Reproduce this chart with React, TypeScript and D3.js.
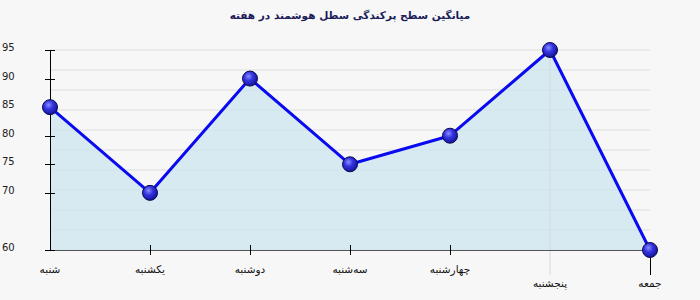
import { useEffect, useRef } from "react";
import * as d3 from "d3";

const title = "میانگین سطح پرکندگی سطل هوشمند در هفته";
const days = ["شنبه", "یکشنبه", "دوشنبه", "سه‌شنبه", "چهارشنبه", "پنجشنبه", "جمعه"];
const values = [85, 70, 90, 75, 80, 95, 60];
const yTickValues = [60, 70, 75, 80, 85, 90, 95];
// labels that are pushed down a row in the original
const lowLabels = ["پنجشنبه", "جمعه"];

function App() {
  const svgRef = useRef<SVGSVGElement | null>(null);

  useEffect(() => {
    const svg: any = d3.select(svgRef.current);
    svg.selectAll("*").remove();
    const width = 700;
    const height = 300;

    const x: any = d3.scalePoint().domain(days).range([50, 650]);
    const y: any = d3.scaleLinear().domain([60, 95]).range([250, 50]);

    const defs = svg.append("defs");
    const grad = defs
      .append("radialGradient")
      .attr("id", "ball")
      .attr("cx", "40%")
      .attr("cy", "35%")
      .attr("r", "65%");
    grad.append("stop").attr("offset", "0%").attr("stop-color", "#8c8cff");
    grad.append("stop").attr("offset", "45%").attr("stop-color", "#3434e0");
    grad.append("stop").attr("offset", "100%").attr("stop-color", "#14149a");

    svg
      .append("rect")
      .attr("width", width)
      .attr("height", height)
      .attr("fill", "#f7f7f7");

    // horizontal grid, 10 equal steps
    const gridVals = d3.range(11).map((i) => 60 + (i * 35) / 10);
    svg
      .append("g")
      .selectAll("line")
      .data(gridVals)
      .enter()
      .append("line")
      .attr("x1", x(days[0]))
      .attr("x2", x(days[days.length - 1]))
      .attr("y1", (d: number) => y(d))
      .attr("y2", (d: number) => y(d))
      .attr("stroke", "#dcdcdc")
      .attr("stroke-width", 1);

    // area under line
    const area: any = d3
      .area()
      .x((_: any, i: number) => x(days[i]))
      .y0(y(60))
      .y1((d: any) => y(d));
    svg
      .append("path")
      .datum(values)
      .attr("d", area)
      .attr("fill", "#cfe6ef")
      .attr("fill-opacity", 0.8);

    // vertical grid line at پنجشنبه
    svg
      .append("line")
      .attr("x1", x(days[5]))
      .attr("x2", x(days[5]))
      .attr("y1", y(95))
      .attr("y2", 275)
      .attr("stroke", "#d4d8dc")
      .attr("stroke-width", 1);

    // axes
    svg
      .append("line")
      .attr("x1", 50)
      .attr("x2", x(days[days.length - 1]))
      .attr("y1", y(60) + 0.5)
      .attr("y2", y(60) + 0.5)
      .attr("stroke", "#555");
    svg
      .append("line")
      .attr("x1", x(days[0]) + 0.5)
      .attr("x2", x(days[0]) + 0.5)
      .attr("y1", y(95))
      .attr("y2", y(60))
      .attr("stroke", "#000");

    // y ticks and labels
    const yt = svg.append("g");
    yt.selectAll("line")
      .data(yTickValues)
      .enter()
      .append("line")
      .attr("x1", 45)
      .attr("x2", 55)
      .attr("y1", (d: number) => Math.round(y(d)) + 0.5)
      .attr("y2", (d: number) => Math.round(y(d)) + 0.5)
      .attr("stroke", "#000");
    yt.selectAll("text")
      .data(yTickValues)
      .enter()
      .append("text")
      .attr("x", 2)
      .attr("y", (d: number) => y(d) + 1)
      .attr("font-family", "DejaVu Sans, Verdana, sans-serif")
      .attr("font-size", 10)
      .attr("fill", "#222")
      .text((d: number) => d);

    // x ticks
    const xt = svg.append("g");
    xt.selectAll("line")
      .data(days.slice(1, 5))
      .enter()
      .append("line")
      .attr("x1", (d: string) => x(d) + 0.5)
      .attr("x2", (d: string) => x(d) + 0.5)
      .attr("y1", 245)
      .attr("y2", 255)
      .attr("stroke", "#000");
    xt.append("line")
      .attr("x1", x(days[6]) + 0.5)
      .attr("x2", x(days[6]) + 0.5)
      .attr("y1", 250)
      .attr("y2", 275)
      .attr("stroke", "#000");
    xt.selectAll("text")
      .data(days)
      .enter()
      .append("text")
      .attr("x", (d: string) => x(d))
      .attr("y", (d: string) => (lowLabels.includes(d) ? 287 : 273))
      .attr("text-anchor", "middle")
      .attr("font-family", "DejaVu Sans, Verdana, sans-serif")
      .attr("font-size", 10.5)
      .attr("fill", "#111")
      .text((d: string) => d);

    // line
    const line: any = d3
      .line()
      .x((_: any, i: number) => x(days[i]))
      .y((d: any) => y(d));
    svg
      .append("path")
      .datum(values)
      .attr("d", line)
      .attr("fill", "none")
      .attr("stroke", "#0a0af0")
      .attr("stroke-width", 3)
      .attr("stroke-linejoin", "round");

    // markers
    svg
      .append("g")
      .selectAll("circle")
      .data(values)
      .enter()
      .append("circle")
      .attr("cx", (_: any, i: number) => x(days[i]))
      .attr("cy", (d: number) => y(d))
      .attr("r", 7.5)
      .attr("fill", "url(#ball)")
      .attr("stroke", "#0a0a50")
      .attr("stroke-width", 1);

    // title
    svg
      .append("text")
      .attr("x", 350)
      .attr("y", 19)
      .attr("text-anchor", "middle")
      .attr("font-family", "DejaVu Sans, Tahoma, sans-serif")
      .attr("font-size", 10.5)
      .attr("font-weight", "bold")
      .attr("fill", "#1c1c5a")
      .text(title);
  }, []);

  return (
    <svg
      ref={svgRef}
      width={700}
      height={300}
      style={{ position: "absolute", left: 0, top: 0 }}
    ></svg>
  );
}

export default App;
